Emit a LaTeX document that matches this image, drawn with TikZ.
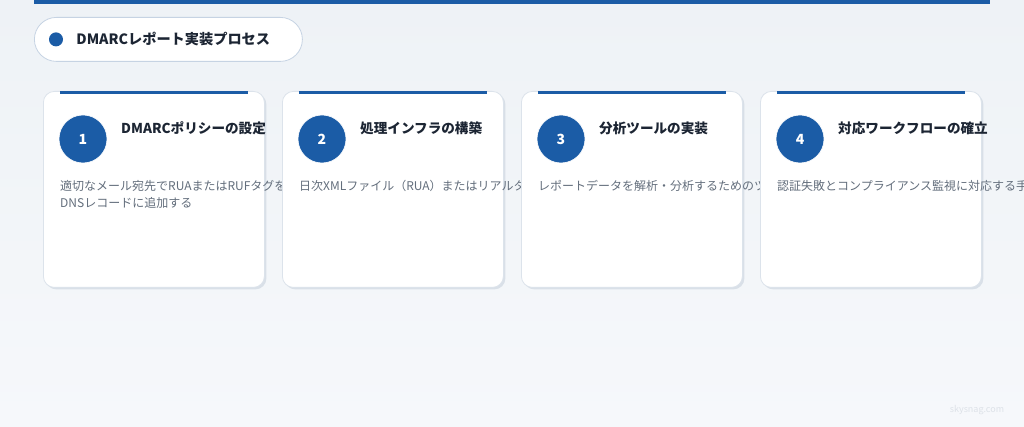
\documentclass[tikz,border=0pt]{standalone}
\usepackage{fontspec}
\setmainfont{Noto Sans CJK JP}
\usepackage{xcolor}
\usetikzlibrary{positioning,calc,shadows}

\definecolor{dmblue}{HTML}{1B5CA6}
\definecolor{bgtop}{HTML}{EEF2F6}
\definecolor{bgbot}{HTML}{F6F8FB}
\definecolor{cardline}{HTML}{DCE3EB}
\definecolor{cardshadow}{HTML}{C9D2DD}
\definecolor{pillline}{HTML}{C6D3E3}
\definecolor{titletext}{HTML}{1C2533}
\definecolor{bodytext}{HTML}{636E7C}
\definecolor{markgray}{HTML}{DDE2E8}

\begin{document}
\begin{tikzpicture}[x=1pt,y=-1pt,
    card/.style={draw=cardline,fill=white,line width=0.8pt,rounded corners=11pt,
      minimum width=221pt,minimum height=196pt,anchor=north west,
      drop shadow={shadow xshift=2pt,shadow yshift=-2pt,fill=cardshadow,opacity=0.6}},
    accent/.style={fill=dmblue,draw=none},
    num/.style={circle,fill=dmblue,draw=white,line width=0.6pt,minimum size=48pt,inner sep=0pt,
      text=white,font=\bfseries\fontsize{14}{16}\selectfont},
    steptitle/.style={anchor=west,inner sep=0pt,text=titletext,font=\bfseries\fontsize{13.6}{16}\selectfont},
    stepbody/.style={anchor=north west,inner sep=0pt,align=left,text=bodytext,font=\fontsize{12}{17}\selectfont},
    pill/.style={draw=pillline,fill=white,line width=0.8pt,rounded corners=22pt,
      minimum width=268pt,minimum height=44pt,anchor=north west},
    hdot/.style={circle,fill=dmblue,minimum size=14pt,inner sep=0pt},
    headtext/.style={inner sep=0pt,text=titletext,font=\bfseries\fontsize{14.2}{16}\selectfont}]
  \clip (0,0) rectangle (1024,427);
  \shade[top color=bgtop,bottom color=bgbot] (0,0) rectangle (1024,427);
  \fill[dmblue] (34,0) rectangle (990,4);

  \node[pill] (head) at (34,17) {};
  \node[hdot] (dot) at ($(head.west)+(22,0)$) {};
  \node[headtext,anchor=west,right=13pt of dot] (htext) {DMARCレポート実装プロセス};

  %% step 1
  \node[card] (c1) at (43,91) {};
  \fill[accent] ($(c1.north west)+(17,0)$) rectangle ($(c1.north east)+(-17,3)$);
  \node[num] (n1) at ($(c1.north west)+(40,48)$) {1};
  \node[steptitle] (t1) at ($(c1.north west)+(78,37)$) {DMARCポリシーの設定};
  \node[stepbody] (b1) at ($(c1.north west)+(17,89)$) {適切なメール宛先でRUAまたはRUFタグを\\DNSレコードに追加する};

  %% step 2
  \node[card] (c2) at (282,91) {};
  \fill[accent] ($(c2.north west)+(17,0)$) rectangle ($(c2.north east)+(-17,3)$);
  \node[num] (n2) at ($(c2.north west)+(40,48)$) {2};
  \node[steptitle] (t2) at ($(c2.north west)+(78,37)$) {処理インフラの構築};
  \node[stepbody] (b2) at ($(c2.north west)+(17,89)$) {日次XMLファイル（RUA）またはリアルタイム};

  %% step 3
  \node[card] (c3) at (521,91) {};
  \fill[accent] ($(c3.north west)+(17,0)$) rectangle ($(c3.north east)+(-17,3)$);
  \node[num] (n3) at ($(c3.north west)+(40,48)$) {3};
  \node[steptitle] (t3) at ($(c3.north west)+(78,37)$) {分析ツールの実装};
  \node[stepbody] (b3) at ($(c3.north west)+(17,89)$) {レポートデータを解析・分析するためのツール};

  %% step 4
  \node[card] (c4) at (760,91) {};
  \fill[accent] ($(c4.north west)+(17,0)$) rectangle ($(c4.north east)+(-17,3)$);
  \node[num] (n4) at ($(c4.north west)+(40,48)$) {4};
  \node[steptitle] (t4) at ($(c4.north west)+(78,37)$) {対応ワークフローの確立};
  \node[stepbody] (b4) at ($(c4.north west)+(17,89)$) {認証失敗とコンプライアンス監視に対応する手順};

  \node[text=markgray,font=\fontsize{9}{10}\selectfont] (mark) at (977,410) {skysnag.com};
\end{tikzpicture}
\end{document}
